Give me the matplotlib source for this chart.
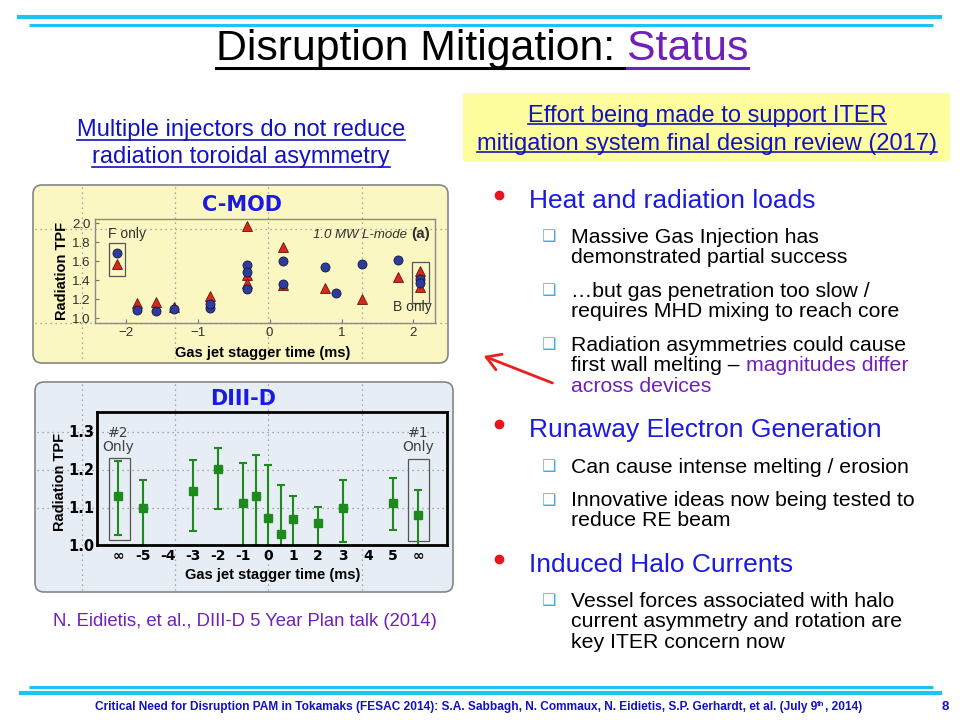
import matplotlib
matplotlib.use("Agg")
import matplotlib.pyplot as plt
from matplotlib import font_manager
from matplotlib.lines import Line2D
from matplotlib.patches import FancyBboxPatch, FancyArrowPatch, Rectangle
from matplotlib.transforms import Affine2D

W, H = 960, 720

# C-MOD panel: radiation TPF vs gas jet stagger time (ms)
cmod_circle_t = [-2.13, -1.84, -1.58, -1.33, -0.83, -0.83, -0.32, -0.32, -0.32,
                 0.18, 0.18, 0.77, 0.92, 1.28, 1.78, 2.09, 2.09]
cmod_circle_tpf = [1.684, 1.088, 1.077, 1.098, 1.112, 1.154, 1.558, 1.488, 1.312,
                   1.607, 1.358, 1.537, 1.263, 1.568, 1.614, 1.418, 1.370]
cmod_tri_t = [-2.13, -1.84, -1.58, -1.33, -0.83, -0.32, -0.32, -0.32,
              0.18, 0.18, 0.77, 1.28, 1.78, 2.09, 2.09]
cmod_tri_tpf = [1.572, 1.165, 1.175, 1.123, 1.239, 1.972, 1.46, 1.368,
                1.754, 1.347, 1.323, 1.204, 1.432, 1.502, 1.333]
cmod_yticks = [1.0, 1.2, 1.4, 1.6, 1.8, 2.0]
cmod_xticks = [-2, -1, 0, 1, 2]

# DIII-D panel: single injector ("infinity") shown at -6 / +6
d3d_t = [-6, -5, -3, -2, -1, -0.5, 0, 0.5, 1, 2, 3, 5, 6]
d3d_tpf = [1.130, 1.098, 1.142, 1.200, 1.111, 1.128, 1.072, 1.030, 1.068, 1.057, 1.098, 1.110, 1.079]
d3d_hi = [1.222, 1.172, 1.223, 1.255, 1.217, 1.238, 1.210, 1.157, 1.128, 1.101, 1.170, 1.175, 1.145]
d3d_lo = [1.026, 0.98, 1.037, 1.096, 0.98, 0.98, 0.98, 0.98, 0.98, 0.98, 1.007, 1.040, 0.98]
d3d_xticks = [-6, -5, -4, -3, -2, -1, 0, 1, 2, 3, 4, 5, 6]
d3d_xlabels = ['∞', '-5', '-4', '-3', '-2', '-1', '0', '1', '2', '3', '4', '5', '∞']
d3d_yticks = [1.0, 1.1, 1.2, 1.3]

names = {f.name for f in font_manager.fontManager.ttflist}
SANS = 'Liberation Sans'
NARROW = 'Liberation Sans Narrow' if 'Liberation Sans Narrow' in names else None

BLUE = '#1A1AE0'
DBLUE = '#1212C0'
PURPLE = '#7020B8'
CYAN = '#1CC4EE'

fig = plt.figure(figsize=(9.6, 7.2), dpi=100)
fig.patch.set_facecolor('white')
T = Affine2D().scale(1, -1).translate(0, H)   # pixel coords, origin top-left
R = fig.canvas.get_renderer()


def put(x, y, s, size, color='black', weight='normal', style='normal',
        family=SANS, ha='left', va='baseline', **kw):
    return fig.text(x, y, s, transform=T, fontsize=size, color=color,
                    fontweight=weight, fontstyle=style, family=family,
                    ha=ha, va=va, **kw)


def under(t, y, color, lw=1.3):
    bb = t.get_window_extent(R)
    fig.add_artist(Line2D([bb.x0, bb.x1], [y, y], transform=T, color=color, lw=lw))


def right_of(t):
    return t.get_window_extent(R).x1


def hline(x0, x1, y, lw, color=CYAN, **kw):
    fig.add_artist(Line2D([x0, x1], [y, y], transform=T, color=color, lw=lw,
                          solid_capstyle='butt', **kw))


# cyan rules top and bottom
hline(17, 942, 17, 3.0)
hline(29, 933, 24.5, 2.2)
hline(29, 933, 686.5, 2.2)
hline(19, 942, 693, 3.0)

# title
t1 = put(216, 60, 'Disruption Mitigation: ', 30.8)
t2 = put(right_of(t1), 60, 'Status', 30.8, color=PURPLE)
under(t1, 68, 'black', 2.2)
under(t2, 68, PURPLE, 2.2)

# left heading
for y, s in [(136, 'Multiple injectors do not reduce'), (163, 'radiation toroidal asymmetry')]:
    t = put(241, y, s, 17, color=DBLUE, ha='center')
    under(t, y + 4, DBLUE, 1.2)

# yellow box
fig.add_artist(Rectangle((463, 93), 487, 68, transform=T, facecolor='#FDFD9E',
                         edgecolor='none', zorder=-5))
for y, s in [(122, 'Effort being made to support ITER'),
             (150, 'mitigation system final design review (2017)')]:
    t = put(707, y, s, 17, color=DBLUE, ha='center')
    under(t, y + 2, DBLUE, 1.2)

# panels
fig.add_artist(FancyBboxPatch((33, 185), 415, 178, boxstyle='round,pad=0,rounding_size=9',
                              transform=T, facecolor='#FAF7C3', edgecolor='#858585',
                              lw=1.2, zorder=-5))
fig.add_artist(FancyBboxPatch((35, 382), 418, 210, boxstyle='round,pad=0,rounding_size=9',
                              transform=T, facecolor='#E7EDF5', edgecolor='#858585',
                              lw=1.2, zorder=-5))
dot = dict(color='#8F8F8F', lw=0.9, ls=(0, (1, 3)), zorder=-1)
for x in [82, 175, 268, 362]:
    fig.add_artist(Line2D([x, x], [187, 361], transform=T, **dot))
    fig.add_artist(Line2D([x, x], [384, 590], transform=T, **dot))
for y in [229, 323]:
    fig.add_artist(Line2D([35, 446], [y, y], transform=T, **dot))
for y in [432, 470, 508]:
    fig.add_artist(Line2D([37, 451], [y, y], transform=T, **dot))

# C-MOD axes
ax1 = fig.add_axes([95 / W, 1 - 323 / H, 340 / W, 104 / H])
ax1.set_facecolor('none')
ax1.plot(cmod_tri_t, cmod_tri_tpf, ls='none', marker='^', ms=7, mfc='#D8281C',
         mec='#6A1010', mew=0.6)
ax1.plot(cmod_circle_t, cmod_circle_tpf, ls='none', marker='o', ms=6.5, mfc='#2C3C9C',
         mec='#141440', mew=0.6)
ax1.set_xlim(-2.43, 2.30)
ax1.set_ylim(0.95, 2.045)
ax1.set_xticks(cmod_xticks, ['\u22122', '\u22121', '0', '1', '2'])
ax1.set_yticks(cmod_yticks, [f'{v:.1f}' for v in cmod_yticks])
ax1.tick_params(direction='in', length=3, width=0.8, color='#707070', labelsize=9.5,
                labelcolor='#303030', pad=3)
for lab in ax1.get_xticklabels() + ax1.get_yticklabels():
    lab.set_family(SANS)
for sp in ax1.spines.values():
    sp.set_color('#8A8A8A')
    sp.set_linewidth(1.0)
box = dict(fill=False, edgecolor='#555555', lw=0.9)
ax1.add_patch(Rectangle((-2.24, 1.444), 0.23, 0.352, **box))
ax1.add_patch(Rectangle((1.98, 1.158), 0.23, 0.438, **box))
put(127, 238, 'F only', 10, color='#303030', ha='center')
put(412, 311, 'B only', 10, color='#303030', ha='center')
ta = put(430, 238, '(a)', 11, color='#303030', weight='bold', ha='right')
put(ta.get_window_extent(R).x0 - 4, 238, '1.0 MW L-mode', 9.5, color='#303030',
    style='italic', ha='right')
put(242, 211, 'C-MOD', 15, color=BLUE, weight='bold', family='DejaVu Sans', ha='center')
put(62, 271, 'Radiation TPF', 10.5, weight='bold', ha='center', va='center', rotation=90)
put(263, 353, 'Gas jet stagger time (ms)', 10.5, weight='bold', ha='center', va='center')

# DIII-D axes
ax2 = fig.add_axes([97 / W, 1 - 545 / H, 350 / W, 133 / H])
ax2.set_facecolor('none')
lo = [y - l for y, l in zip(d3d_tpf, d3d_lo)]
hi = [h - y for y, h in zip(d3d_tpf, d3d_hi)]
ax2.errorbar(d3d_t, d3d_tpf, yerr=[lo, hi], fmt='s', color='#1E8A1E', ms=5.5,
             elinewidth=1.5, capsize=3, capthick=1.5)
ax2.set_xlim(-6.85, 7.15)
ax2.set_ylim(1.0, 1.35)
ax2.set_xticks(d3d_xticks, d3d_xlabels)
ax2.set_yticks(d3d_yticks, [f'{v:.1f}' for v in d3d_yticks])
ax2.tick_params(length=0, labelsize=10, pad=3)
ax2.tick_params(axis='y', labelsize=10.5, pad=2)
for lab in ax2.get_xticklabels() + ax2.get_yticklabels():
    lab.set_fontweight('bold')
for sp in ax2.spines.values():
    sp.set_color('black')
    sp.set_linewidth(2)
box2 = dict(fill=False, edgecolor='#555555', lw=0.9)
ax2.add_patch(Rectangle((-6.36, 1.014), 0.83, 0.216, **box2))
ax2.add_patch(Rectangle((5.58, 1.011), 0.85, 0.216, **box2))
for x, s in [(118, '#2'), (418, '#1')]:
    put(x, 437, s, 10, color='#404040', ha='center', family='DejaVu Sans')
    put(x, 451, 'Only', 10, color='#404040', ha='center', family='DejaVu Sans')
put(243, 405, 'DIII-D', 15, color=BLUE, weight='bold', family='DejaVu Sans', ha='center')
put(60, 482, 'Radiation TPF', 10.5, weight='bold', ha='center', va='center', rotation=90)
put(273, 575, 'Gas jet stagger time (ms)', 10.5, weight='bold', ha='center', va='center')

put(245, 626, 'N. Eidietis, et al., DIII-D 5 Year Plan talk (2014)', 13.3,
    color=PURPLE, ha='center')

# right-hand bullets
SUB = 15.3


def bullet(y, s):
    fig.add_artist(Line2D([499], [y - 13], transform=T, ls='none', marker='o', ms=6,
                          color='#E8141E'))
    put(529, y, s, 19, color=BLUE)


def icon(y):
    put(548, y, '❑', 11.5, color='#45A8E0', family='DejaVu Sans', ha='center', va='center')


def sub(y0, lines):
    icon(y0 - 6)
    for i, s in enumerate(lines):
        put(571, y0 + 20.3 * i, s, SUB)


bullet(208, 'Heat and radiation loads')
sub(243, ['Massive Gas Injection has', 'demonstrated partial success'])
sub(297, ['\u2026but gas penetration too slow /', 'requires MHD mixing to reach core'])
sub(351, ['Radiation asymmetries could cause'])
tw = put(571, 371, 'first wall melting \u2013 ', SUB)
put(right_of(tw), 371, 'magnitudes differ', SUB, color=PURPLE)
put(571, 391.5, 'across devices', SUB, color=PURPLE)

bullet(437, 'Runaway Electron Generation')
sub(473, ['Can cause intense melting / erosion'])
sub(506, ['Innovative ideas now being tested to', 'reduce RE beam'])

bullet(572, 'Induced Halo Currents')
sub(607, ['Vessel forces associated with halo', 'current asymmetry and rotation are',
          'key ITER concern now'])

fig.add_artist(FancyArrowPatch((555, 384), (481, 355), transform=T,
                               arrowstyle='->,head_length=0.5,head_width=0.3',
                               mutation_scale=20, color='#E8201E', lw=2))

# footer
ff = NARROW or SANS
fs = 9 if NARROW else 8.6
f1 = put(95, 710, 'Critical Need for Disruption PAM in Tokamaks (FESAC 2014): S.A. Sabbagh, '
         'N. Commaux, N. Eidietis, S.P. Gerhardt, et al. (July 9', fs, color=DBLUE,
         weight='bold', family=ff)
f2 = put(right_of(f1), 706, 'th', fs * 0.65, color=DBLUE, weight='bold', family=ff)
put(right_of(f2), 710, ', 2014)', fs, color=DBLUE, weight='bold', family=ff)
put(945, 710, '8', fs + 1, color=DBLUE, weight='bold', family=ff, ha='center')

fig.savefig('out.png', dpi=100, facecolor='white')
